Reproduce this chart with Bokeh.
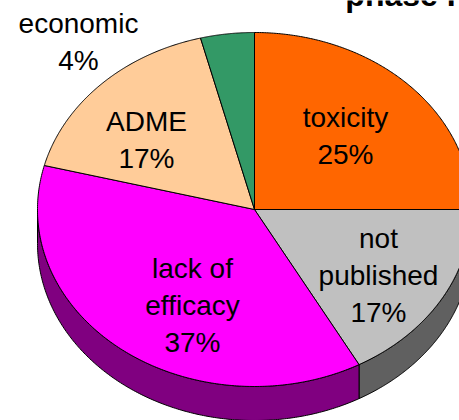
import numpy as np
from bokeh.plotting import figure
from bokeh.models import Range1d, ColumnDataSource
from bokeh.embed import file_html
from bokeh.resources import INLINE
from bokeh.core.properties import value

# ---- data ----
categories = ["toxicity", "not published", "lack of efficacy", "ADME", "economic"]
shares = [25, 17, 37, 17, 4]
name_lines = [["toxicity"], ["not", "published"], ["lack of", "efficacy"], ["ADME"], ["economic"]]
top_colors = ["#FF6600", "#C0C0C0", "#FF00FF", "#FFCC99", "#339966"]
side_colors = ["#803300", "#606060", "#800080", "#806650", "#1A4D33"]
title_text = "phase I"

# ---- layout (screen-pixel coordinates) ----
W, H = 459, 420
X0, Y0 = 0, 0
CX, CY, RX, RY, DEPTH = 254, 209, 217, 177, 34
label_anchor = [(345, 117), (378, 238), (192, 268), (146, 121), (78, 23)]
LINE_STEP = 37
FONT = "Liberation Sans"

p = figure(width=W, height=H, output_backend="svg", toolbar_location=None,
           x_range=Range1d(X0, X0 + W), y_range=Range1d(Y0 + H, Y0),
           min_border=0, min_border_left=0, min_border_right=0,
           min_border_top=0, min_border_bottom=0)
p.axis.visible = False
p.xgrid.visible = False
p.ygrid.visible = False
p.outline_line_color = None
p.background_fill_color = "white"
p.border_fill_color = "white"


def pt(t, dy=0.0):
    return CX + RX * np.sin(t), CY - RY * np.cos(t) + dy


total = float(sum(shares))
bounds = np.concatenate([[0.0], np.cumsum(shares) / total]) * 2 * np.pi

# side faces (front half only: angles between pi/2 and 3pi/2)
sx, sy, sc = [], [], []
for i in range(len(shares)):
    lo = max(bounds[i], np.pi / 2)
    hi = min(bounds[i + 1], 3 * np.pi / 2)
    if hi <= lo:
        continue
    t = np.linspace(lo, hi, 200)
    xt, yt = pt(t)
    xb, yb = pt(t[::-1], DEPTH)
    sx.append(np.concatenate([xt, xb]).tolist())
    sy.append(np.concatenate([yt, yb]).tolist())
    sc.append(side_colors[i])
p.patches(xs="xs", ys="ys", fill_color="fc", line_color="black", line_width=1,
          source=ColumnDataSource(dict(xs=sx, ys=sy, fc=sc)))

# top faces
tx, ty = [], []
for i in range(len(shares)):
    t = np.linspace(bounds[i], bounds[i + 1], 200)
    x, y = pt(t)
    tx.append([CX] + x.tolist())
    ty.append([CY] + y.tolist())
p.patches(xs="xs", ys="ys", fill_color="fc", line_color="black", line_width=1,
          source=ColumnDataSource(dict(xs=tx, ys=ty, fc=top_colors)))

# labels
lx, ly, lt = [], [], []
for i, s in enumerate(shares):
    lines = name_lines[i] + [f"{s}%"]
    ax, ay = label_anchor[i]
    for k, line in enumerate(lines):
        lx.append(ax)
        ly.append(ay + k * LINE_STEP)
        lt.append(line)
p.text(x="x", y="y", text="t", source=ColumnDataSource(dict(x=lx, y=ly, t=lt)),
       text_font=value(FONT), text_font_size="28px", text_align="center",
       text_baseline="alphabetic", text_color="black")

# title (cut off at the top, as in the original)
p.text(x=[400], y=[-6], text=[title_text], text_font=value(FONT),
       text_font_size="32px", text_font_style="bold", text_align="center",
       text_baseline="alphabetic", text_color="black")

open("out.html", "w").write(file_html(p, INLINE))
